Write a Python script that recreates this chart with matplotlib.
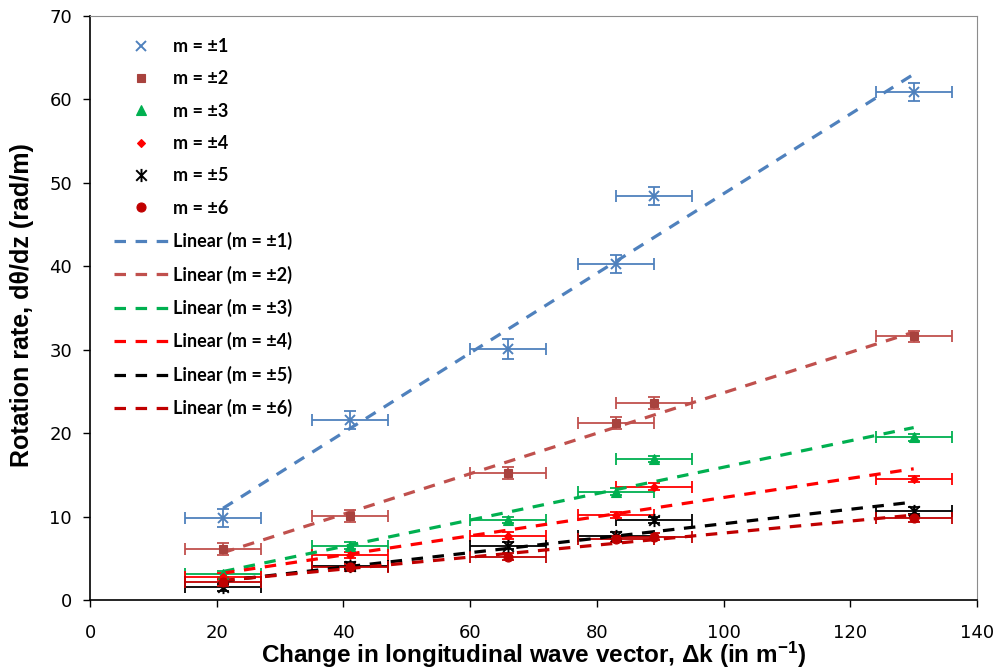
import numpy as np
import matplotlib
matplotlib.use("Agg")
import matplotlib.pyplot as plt
from matplotlib.lines import Line2D
from matplotlib.path import Path

plt.rcParams["mathtext.fontset"] = "custom"
plt.rcParams["mathtext.rm"] = "Liberation Sans:bold"
plt.rcParams["mathtext.bf"] = "Liberation Sans:bold"
plt.rcParams["mathtext.default"] = "bf"

# --- data ---
dk = [21, 41, 66, 83, 89, 130]
dk_err = [6, 6, 6, 6, 6, 6]

m1 = [9.8, 21.6, 30.1, 40.3, 48.4, 60.9]
m2 = [6.1, 10.1, 15.2, 21.2, 23.6, 31.6]
m3 = [3.1, 6.5, 9.6, 13.0, 16.9, 19.5]
m4 = [2.8, 5.4, 7.7, 10.2, 13.6, 14.5]
m5 = [1.5, 4.1, 6.5, 7.7, 9.6, 10.7]
m6 = [2.1, 3.9, 5.2, 7.3, 7.6, 9.8]

m1_err = [1.1, 1.1, 1.2, 1.1, 1.1, 1.1]
m2_err = [0.7, 0.7, 0.7, 0.7, 0.7, 0.7]
m3_err = [0.4, 0.4, 0.4, 0.4, 0.4, 0.4]
m4_err = [0.4, 0.4, 0.4, 0.4, 0.4, 0.4]
m5_err = [0.4, 0.4, 0.4, 0.4, 0.4, 0.4]
m6_err = [0.4, 0.4, 0.4, 0.4, 0.4, 0.4]

labels = ["m = \u00b11", "m = \u00b12", "m = \u00b13", "m = \u00b14", "m = \u00b15", "m = \u00b16"]

# excel style "star": an x with a vertical stroke
STAR = Path([(-1, -1), (1, 1), (-1, 1), (1, -1), (0, -1.25), (0, 1.25)],
            [Path.MOVETO, Path.LINETO, Path.MOVETO, Path.LINETO, Path.MOVETO, Path.LINETO])

# style per series: (marker, size, marker colour, bar colour, line colour)
styles = [
    ("x", 7, "#4F81BD", "#4F81BD", "#4F81BD"),
    ("s", 6.3, "#A8423E", "#C0504D", "#C0504D"),
    ("^", 7.5, "#00B050", "#00B050", "#00B050"),
    ("D", 4.5, "#FF0000", "#FF0000", "#FF0000"),
    (STAR, 9.5, "#000000", "#000000", "#000000"),
    ("o", 6.5, "#C00000", "#C00000", "#C00000"),
]
series = [(m1, m1_err), (m2, m2_err), (m3, m3_err), (m4, m4_err), (m5, m5_err), (m6, m6_err)]

fig = plt.figure(figsize=(9.98, 6.7), dpi=100)
ax = fig.add_axes([0.0902, 0.1045, 0.8888, 0.8715])

x = np.array(dk, dtype=float)
mk_handles = []; ln_handles = []
for (y, ye), (mk, ms, mc, bc, lc), lab in zip(series, styles, labels):
    mew = 1.4 if (mk is STAR or mk == "x") else 0.8
    ax.errorbar(x, y, xerr=dk_err, yerr=ye, fmt="none", ecolor=bc, elinewidth=1.3,
                capsize=4, capthick=1.3, zorder=2)
    ax.plot(x, y, linestyle="none", marker=mk, markersize=ms, color=mc,
            markeredgecolor=mc, markeredgewidth=mew, zorder=4)
    a, b = np.polyfit(x, y, 1)
    xs = np.array([x.min(), x.max()])
    ax.plot(xs, a * xs + b, color=lc, lw=2.3, dashes=(3.6, 3.0), zorder=3)
    mk_handles.append(Line2D([], [], linestyle="none", marker=mk, markersize=ms, color=mc,
                             markeredgewidth=mew, label=lab))
    ln_handles.append(Line2D([], [], color=lc, lw=2.3, dashes=(3.6, 3.0), label="Linear (" + lab + ")"))

ax.set_xlim(0, 140)
ax.set_ylim(0, 70)
ax.set_xticks(range(0, 141, 20))
ax.set_yticks(range(0, 71, 10))
ax.tick_params(direction="out", length=5, width=1, labelsize=13, colors="black")
ax.tick_params(axis="x", pad=12)
ax.tick_params(axis="y", pad=8)
for s in ("top", "right"):
    ax.spines[s].set_color("#8C8C8C")
for s in ("left", "bottom"):
    ax.spines[s].set_color("black")
    ax.spines[s].set_linewidth(1.2)

ax.set_xlabel(r"Change in longitudinal wave vector, Δk (in m$^{-1}$)",
              fontsize=17.5, fontweight="bold", family="Liberation Sans", labelpad=-1)
ax.set_ylabel("Rotation rate, d\u03b8/dz (rad/m)", fontsize=18, fontweight="bold",
              family="Liberation Sans")
ax.yaxis.set_label_coords(-0.063, 0.505)

leg = ax.legend(handles=mk_handles + ln_handles, loc="upper left", bbox_to_anchor=(0.019, 0.975),
                frameon=False, handlelength=3.0, handletextpad=0.28, labelspacing=0.85,
                borderaxespad=0, prop={"family": "Lato", "weight": "bold", "size": 13})

fig.savefig("out.png", dpi=100)
